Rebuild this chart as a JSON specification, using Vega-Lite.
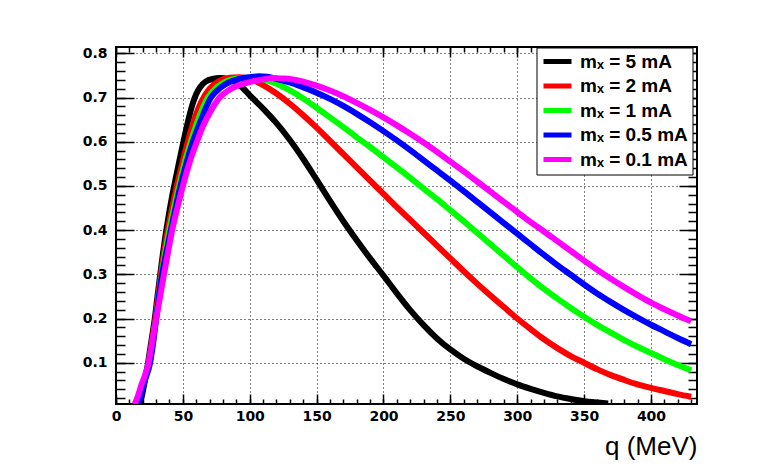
{
"$schema": "https://vega.github.io/schema/vega-lite/v6.json",
"width": 581, "height": 357,
"autosize": "none",
"padding": {"left": 116, "top": 47, "right": 78, "bottom": 72},
"background": "white",
"config": {"view": {"stroke": "black", "strokeWidth": 2}},
"data": {"values": [
{"s":"mₓ = 5 mA","q":17.5,"f":0.007},{"s":"mₓ = 5 mA","q":19,"f":0.02},{"s":"mₓ = 5 mA","q":21,"f":0.05},{"s":"mₓ = 5 mA","q":24,"f":0.1},{"s":"mₓ = 5 mA","q":26.5,"f":0.15},{"s":"mₓ = 5 mA","q":29,"f":0.2},{"s":"mₓ = 5 mA","q":31,"f":0.25},{"s":"mₓ = 5 mA","q":33,"f":0.298},{"s":"mₓ = 5 mA","q":35,"f":0.345},{"s":"mₓ = 5 mA","q":37,"f":0.388},{"s":"mₓ = 5 mA","q":39.5,"f":0.435},{"s":"mₓ = 5 mA","q":42,"f":0.477},{"s":"mₓ = 5 mA","q":45,"f":0.522},{"s":"mₓ = 5 mA","q":48,"f":0.566},{"s":"mₓ = 5 mA","q":51,"f":0.608},{"s":"mₓ = 5 mA","q":54,"f":0.648},{"s":"mₓ = 5 mA","q":57,"f":0.683},{"s":"mₓ = 5 mA","q":60,"f":0.708},{"s":"mₓ = 5 mA","q":63,"f":0.724},{"s":"mₓ = 5 mA","q":67,"f":0.736},{"s":"mₓ = 5 mA","q":72,"f":0.742},{"s":"mₓ = 5 mA","q":78,"f":0.744},{"s":"mₓ = 5 mA","q":84,"f":0.741},{"s":"mₓ = 5 mA","q":90,"f":0.733},{"s":"mₓ = 5 mA","q":95,"f":0.721},{"s":"mₓ = 5 mA","q":100,"f":0.705},{"s":"mₓ = 5 mA","q":110,"f":0.675},{"s":"mₓ = 5 mA","q":120,"f":0.642},{"s":"mₓ = 5 mA","q":130,"f":0.604},{"s":"mₓ = 5 mA","q":140,"f":0.561},{"s":"mₓ = 5 mA","q":150,"f":0.514},{"s":"mₓ = 5 mA","q":160,"f":0.466},{"s":"mₓ = 5 mA","q":170,"f":0.42},{"s":"mₓ = 5 mA","q":180,"f":0.377},{"s":"mₓ = 5 mA","q":190,"f":0.336},{"s":"mₓ = 5 mA","q":200,"f":0.297},{"s":"mₓ = 5 mA","q":210,"f":0.257},{"s":"mₓ = 5 mA","q":220,"f":0.219},{"s":"mₓ = 5 mA","q":230,"f":0.185},{"s":"mₓ = 5 mA","q":240,"f":0.155},{"s":"mₓ = 5 mA","q":250,"f":0.13},{"s":"mₓ = 5 mA","q":260,"f":0.109},{"s":"mₓ = 5 mA","q":270,"f":0.092},{"s":"mₓ = 5 mA","q":280,"f":0.077},{"s":"mₓ = 5 mA","q":290,"f":0.063},{"s":"mₓ = 5 mA","q":300,"f":0.051},{"s":"mₓ = 5 mA","q":310,"f":0.041},{"s":"mₓ = 5 mA","q":320,"f":0.032},{"s":"mₓ = 5 mA","q":330,"f":0.024},{"s":"mₓ = 5 mA","q":340,"f":0.018},{"s":"mₓ = 5 mA","q":350,"f":0.013},{"s":"mₓ = 5 mA","q":360,"f":0.01},{"s":"mₓ = 5 mA","q":368,"f":0.008},
{"s":"mₓ = 2 mA","q":16,"f":0.008},{"s":"mₓ = 2 mA","q":18,"f":0.025},{"s":"mₓ = 2 mA","q":21,"f":0.058},{"s":"mₓ = 2 mA","q":24.5,"f":0.1},{"s":"mₓ = 2 mA","q":27,"f":0.15},{"s":"mₓ = 2 mA","q":29.5,"f":0.2},{"s":"mₓ = 2 mA","q":31.5,"f":0.25},{"s":"mₓ = 2 mA","q":33.5,"f":0.298},{"s":"mₓ = 2 mA","q":36,"f":0.35},{"s":"mₓ = 2 mA","q":38.7,"f":0.4},{"s":"mₓ = 2 mA","q":42,"f":0.45},{"s":"mₓ = 2 mA","q":45.5,"f":0.5},{"s":"mₓ = 2 mA","q":49.5,"f":0.55},{"s":"mₓ = 2 mA","q":53.7,"f":0.6},{"s":"mₓ = 2 mA","q":58,"f":0.645},{"s":"mₓ = 2 mA","q":63.7,"f":0.69},{"s":"mₓ = 2 mA","q":70,"f":0.72},{"s":"mₓ = 2 mA","q":77,"f":0.737},{"s":"mₓ = 2 mA","q":85,"f":0.745},{"s":"mₓ = 2 mA","q":92,"f":0.746},{"s":"mₓ = 2 mA","q":100,"f":0.742},{"s":"mₓ = 2 mA","q":110,"f":0.728},{"s":"mₓ = 2 mA","q":120,"f":0.709},{"s":"mₓ = 2 mA","q":130,"f":0.686},{"s":"mₓ = 2 mA","q":140,"f":0.66},{"s":"mₓ = 2 mA","q":150,"f":0.632},{"s":"mₓ = 2 mA","q":160,"f":0.602},{"s":"mₓ = 2 mA","q":170,"f":0.572},{"s":"mₓ = 2 mA","q":180,"f":0.542},{"s":"mₓ = 2 mA","q":190,"f":0.512},{"s":"mₓ = 2 mA","q":200,"f":0.482},{"s":"mₓ = 2 mA","q":210,"f":0.452},{"s":"mₓ = 2 mA","q":220,"f":0.423},{"s":"mₓ = 2 mA","q":230,"f":0.394},{"s":"mₓ = 2 mA","q":240,"f":0.365},{"s":"mₓ = 2 mA","q":250,"f":0.336},{"s":"mₓ = 2 mA","q":260,"f":0.307},{"s":"mₓ = 2 mA","q":270,"f":0.279},{"s":"mₓ = 2 mA","q":280,"f":0.252},{"s":"mₓ = 2 mA","q":290,"f":0.226},{"s":"mₓ = 2 mA","q":300,"f":0.2},{"s":"mₓ = 2 mA","q":310,"f":0.176},{"s":"mₓ = 2 mA","q":320,"f":0.153},{"s":"mₓ = 2 mA","q":330,"f":0.133},{"s":"mₓ = 2 mA","q":340,"f":0.115},{"s":"mₓ = 2 mA","q":350,"f":0.1},{"s":"mₓ = 2 mA","q":360,"f":0.085},{"s":"mₓ = 2 mA","q":370,"f":0.072},{"s":"mₓ = 2 mA","q":380,"f":0.061},{"s":"mₓ = 2 mA","q":390,"f":0.051},{"s":"mₓ = 2 mA","q":400,"f":0.043},{"s":"mₓ = 2 mA","q":410,"f":0.036},{"s":"mₓ = 2 mA","q":420,"f":0.029},{"s":"mₓ = 2 mA","q":430,"f":0.023},
{"s":"mₓ = 1 mA","q":16,"f":0.008},{"s":"mₓ = 1 mA","q":18,"f":0.025},{"s":"mₓ = 1 mA","q":21,"f":0.058},{"s":"mₓ = 1 mA","q":25,"f":0.1},{"s":"mₓ = 1 mA","q":27.5,"f":0.15},{"s":"mₓ = 1 mA","q":30,"f":0.2},{"s":"mₓ = 1 mA","q":32,"f":0.25},{"s":"mₓ = 1 mA","q":34,"f":0.295},{"s":"mₓ = 1 mA","q":37,"f":0.352},{"s":"mₓ = 1 mA","q":40,"f":0.402},{"s":"mₓ = 1 mA","q":43.5,"f":0.452},{"s":"mₓ = 1 mA","q":47,"f":0.498},{"s":"mₓ = 1 mA","q":51,"f":0.548},{"s":"mₓ = 1 mA","q":56,"f":0.6},{"s":"mₓ = 1 mA","q":61.5,"f":0.65},{"s":"mₓ = 1 mA","q":68.7,"f":0.7},{"s":"mₓ = 1 mA","q":75,"f":0.722},{"s":"mₓ = 1 mA","q":82,"f":0.736},{"s":"mₓ = 1 mA","q":90,"f":0.743},{"s":"mₓ = 1 mA","q":100,"f":0.745},{"s":"mₓ = 1 mA","q":110,"f":0.741},{"s":"mₓ = 1 mA","q":120,"f":0.731},{"s":"mₓ = 1 mA","q":130,"f":0.716},{"s":"mₓ = 1 mA","q":140,"f":0.698},{"s":"mₓ = 1 mA","q":150,"f":0.677},{"s":"mₓ = 1 mA","q":160,"f":0.655},{"s":"mₓ = 1 mA","q":170,"f":0.633},{"s":"mₓ = 1 mA","q":180,"f":0.61},{"s":"mₓ = 1 mA","q":190,"f":0.588},{"s":"mₓ = 1 mA","q":200,"f":0.565},{"s":"mₓ = 1 mA","q":210,"f":0.542},{"s":"mₓ = 1 mA","q":220,"f":0.518},{"s":"mₓ = 1 mA","q":230,"f":0.494},{"s":"mₓ = 1 mA","q":240,"f":0.47},{"s":"mₓ = 1 mA","q":250,"f":0.445},{"s":"mₓ = 1 mA","q":260,"f":0.42},{"s":"mₓ = 1 mA","q":270,"f":0.394},{"s":"mₓ = 1 mA","q":280,"f":0.368},{"s":"mₓ = 1 mA","q":290,"f":0.342},{"s":"mₓ = 1 mA","q":300,"f":0.316},{"s":"mₓ = 1 mA","q":310,"f":0.291},{"s":"mₓ = 1 mA","q":320,"f":0.267},{"s":"mₓ = 1 mA","q":330,"f":0.245},{"s":"mₓ = 1 mA","q":340,"f":0.224},{"s":"mₓ = 1 mA","q":350,"f":0.204},{"s":"mₓ = 1 mA","q":360,"f":0.185},{"s":"mₓ = 1 mA","q":370,"f":0.168},{"s":"mₓ = 1 mA","q":380,"f":0.151},{"s":"mₓ = 1 mA","q":390,"f":0.136},{"s":"mₓ = 1 mA","q":400,"f":0.122},{"s":"mₓ = 1 mA","q":410,"f":0.108},{"s":"mₓ = 1 mA","q":420,"f":0.095},{"s":"mₓ = 1 mA","q":430,"f":0.083},
{"s":"mₓ = 0.5 mA","q":16.5,"f":0.007},{"s":"mₓ = 0.5 mA","q":18,"f":0.02},{"s":"mₓ = 0.5 mA","q":21,"f":0.055},{"s":"mₓ = 0.5 mA","q":25.5,"f":0.1},{"s":"mₓ = 0.5 mA","q":28,"f":0.15},{"s":"mₓ = 0.5 mA","q":30,"f":0.2},{"s":"mₓ = 0.5 mA","q":32,"f":0.248},{"s":"mₓ = 0.5 mA","q":34.5,"f":0.3},{"s":"mₓ = 0.5 mA","q":38,"f":0.355},{"s":"mₓ = 0.5 mA","q":41,"f":0.4},{"s":"mₓ = 0.5 mA","q":44.5,"f":0.45},{"s":"mₓ = 0.5 mA","q":48,"f":0.497},{"s":"mₓ = 0.5 mA","q":52.5,"f":0.55},{"s":"mₓ = 0.5 mA","q":57.5,"f":0.6},{"s":"mₓ = 0.5 mA","q":63,"f":0.645},{"s":"mₓ = 0.5 mA","q":71,"f":0.7},{"s":"mₓ = 0.5 mA","q":78,"f":0.722},{"s":"mₓ = 0.5 mA","q":85,"f":0.735},{"s":"mₓ = 0.5 mA","q":92,"f":0.742},{"s":"mₓ = 0.5 mA","q":100,"f":0.746},{"s":"mₓ = 0.5 mA","q":107,"f":0.748},{"s":"mₓ = 0.5 mA","q":113,"f":0.747},{"s":"mₓ = 0.5 mA","q":120,"f":0.742},{"s":"mₓ = 0.5 mA","q":130,"f":0.734},{"s":"mₓ = 0.5 mA","q":140,"f":0.723},{"s":"mₓ = 0.5 mA","q":150,"f":0.711},{"s":"mₓ = 0.5 mA","q":160,"f":0.697},{"s":"mₓ = 0.5 mA","q":170,"f":0.681},{"s":"mₓ = 0.5 mA","q":180,"f":0.663},{"s":"mₓ = 0.5 mA","q":190,"f":0.644},{"s":"mₓ = 0.5 mA","q":200,"f":0.624},{"s":"mₓ = 0.5 mA","q":210,"f":0.603},{"s":"mₓ = 0.5 mA","q":220,"f":0.581},{"s":"mₓ = 0.5 mA","q":230,"f":0.558},{"s":"mₓ = 0.5 mA","q":240,"f":0.535},{"s":"mₓ = 0.5 mA","q":250,"f":0.512},{"s":"mₓ = 0.5 mA","q":260,"f":0.488},{"s":"mₓ = 0.5 mA","q":270,"f":0.464},{"s":"mₓ = 0.5 mA","q":280,"f":0.44},{"s":"mₓ = 0.5 mA","q":290,"f":0.416},{"s":"mₓ = 0.5 mA","q":300,"f":0.392},{"s":"mₓ = 0.5 mA","q":310,"f":0.368},{"s":"mₓ = 0.5 mA","q":320,"f":0.344},{"s":"mₓ = 0.5 mA","q":330,"f":0.321},{"s":"mₓ = 0.5 mA","q":340,"f":0.299},{"s":"mₓ = 0.5 mA","q":350,"f":0.277},{"s":"mₓ = 0.5 mA","q":360,"f":0.256},{"s":"mₓ = 0.5 mA","q":370,"f":0.237},{"s":"mₓ = 0.5 mA","q":380,"f":0.219},{"s":"mₓ = 0.5 mA","q":390,"f":0.202},{"s":"mₓ = 0.5 mA","q":400,"f":0.186},{"s":"mₓ = 0.5 mA","q":410,"f":0.171},{"s":"mₓ = 0.5 mA","q":420,"f":0.156},{"s":"mₓ = 0.5 mA","q":430,"f":0.142},
{"s":"mₓ = 0.1 mA","q":14,"f":0.006},{"s":"mₓ = 0.1 mA","q":17,"f":0.03},{"s":"mₓ = 0.1 mA","q":19,"f":0.05},{"s":"mₓ = 0.1 mA","q":21,"f":0.066},{"s":"mₓ = 0.1 mA","q":24.4,"f":0.1},{"s":"mₓ = 0.1 mA","q":27,"f":0.145},{"s":"mₓ = 0.1 mA","q":30,"f":0.198},{"s":"mₓ = 0.1 mA","q":33,"f":0.25},{"s":"mₓ = 0.1 mA","q":36,"f":0.302},{"s":"mₓ = 0.1 mA","q":39,"f":0.352},{"s":"mₓ = 0.1 mA","q":42,"f":0.4},{"s":"mₓ = 0.1 mA","q":46,"f":0.452},{"s":"mₓ = 0.1 mA","q":50,"f":0.5},{"s":"mₓ = 0.1 mA","q":55,"f":0.553},{"s":"mₓ = 0.1 mA","q":60.5,"f":0.6},{"s":"mₓ = 0.1 mA","q":65,"f":0.635},{"s":"mₓ = 0.1 mA","q":70,"f":0.665},{"s":"mₓ = 0.1 mA","q":77.5,"f":0.7},{"s":"mₓ = 0.1 mA","q":85,"f":0.718},{"s":"mₓ = 0.1 mA","q":92,"f":0.728},{"s":"mₓ = 0.1 mA","q":100,"f":0.735},{"s":"mₓ = 0.1 mA","q":110,"f":0.741},{"s":"mₓ = 0.1 mA","q":118,"f":0.744},{"s":"mₓ = 0.1 mA","q":125,"f":0.743},{"s":"mₓ = 0.1 mA","q":130,"f":0.742},{"s":"mₓ = 0.1 mA","q":140,"f":0.736},{"s":"mₓ = 0.1 mA","q":150,"f":0.727},{"s":"mₓ = 0.1 mA","q":160,"f":0.716},{"s":"mₓ = 0.1 mA","q":170,"f":0.703},{"s":"mₓ = 0.1 mA","q":180,"f":0.688},{"s":"mₓ = 0.1 mA","q":190,"f":0.672},{"s":"mₓ = 0.1 mA","q":200,"f":0.655},{"s":"mₓ = 0.1 mA","q":210,"f":0.637},{"s":"mₓ = 0.1 mA","q":220,"f":0.618},{"s":"mₓ = 0.1 mA","q":230,"f":0.598},{"s":"mₓ = 0.1 mA","q":240,"f":0.577},{"s":"mₓ = 0.1 mA","q":250,"f":0.555},{"s":"mₓ = 0.1 mA","q":260,"f":0.533},{"s":"mₓ = 0.1 mA","q":270,"f":0.51},{"s":"mₓ = 0.1 mA","q":280,"f":0.487},{"s":"mₓ = 0.1 mA","q":290,"f":0.464},{"s":"mₓ = 0.1 mA","q":300,"f":0.441},{"s":"mₓ = 0.1 mA","q":310,"f":0.418},{"s":"mₓ = 0.1 mA","q":320,"f":0.397},{"s":"mₓ = 0.1 mA","q":330,"f":0.375},{"s":"mₓ = 0.1 mA","q":340,"f":0.353},{"s":"mₓ = 0.1 mA","q":350,"f":0.331},{"s":"mₓ = 0.1 mA","q":360,"f":0.31},{"s":"mₓ = 0.1 mA","q":370,"f":0.29},{"s":"mₓ = 0.1 mA","q":380,"f":0.271},{"s":"mₓ = 0.1 mA","q":390,"f":0.253},{"s":"mₓ = 0.1 mA","q":400,"f":0.236},{"s":"mₓ = 0.1 mA","q":410,"f":0.221},{"s":"mₓ = 0.1 mA","q":420,"f":0.207},{"s":"mₓ = 0.1 mA","q":430,"f":0.194}
]},
"layer": [
{"mark": {"type": "line", "strokeWidth": 6, "clip": true, "interpolate": "monotone", "strokeJoin": "round"},
 "encoding": {
  "x": {"field": "q", "type": "quantitative", "scale": {"domain": [0, 434.4], "nice": false, "zero": false},
   "axis": {"orient": "bottom", "values": [0,50,100,150,200,250,300,350,400], "format": "d", "domain": false, "ticks": false,
    "grid": true, "gridColor": "black", "gridDash": [1,3], "gridWidth": 1,
    "labelFont": "DejaVu Sans", "labelFontWeight": "bold", "labelFontSize": 14, "labelColor": "black", "labelPadding": 5, "labelFlush": false, "labelOverlap": false,
    "title": "q (MeV)", "titleFont": "Liberation Sans", "titleFontSize": 26, "titleFontWeight": "normal", "titleColor": "black", "titleAnchor": "end", "titlePadding": 10}},
  "y": {"field": "f", "type": "quantitative", "scale": {"domain": [0.0066, 0.8143], "nice": false, "zero": false},
   "axis": {"orient": "left", "values": [0.1,0.2,0.3,0.4,0.5,0.6,0.7,0.8], "format": ".1f", "domain": false, "ticks": false,
    "grid": true, "gridColor": "black", "gridDash": [1,3], "gridWidth": 1,
    "labelFont": "DejaVu Sans", "labelFontWeight": "bold", "labelFontSize": 14, "labelColor": "black", "labelPadding": 9, "labelFlush": false, "labelOverlap": false,
    "title": null}},
  "color": {"field": "s", "type": "nominal",
   "scale": {"domain": ["mₓ = 5 mA","mₓ = 2 mA","mₓ = 1 mA","mₓ = 0.5 mA","mₓ = 0.1 mA"], "range": ["#000000","#ff0000","#00ff00","#0000ff","#ff00ff"]},
   "legend": {"orient": "none", "legendX": 420.5, "legendY": 0.5, "title": null,
    "strokeColor": "black", "fillColor": "white", "padding": 4.5,
    "symbolType": "M-2,0H2", "symbolSize": 196, "symbolStrokeWidth": 5, "symbolOffset": 7,
    "labelFont": "Liberation Sans", "labelFontWeight": "bold", "labelFontSize": 19, "labelColor": "black", "labelOffset": 13, "labelLimit": 300,
    "rowPadding": 3.5}}
 }},
{"mark": {"type": "point", "opacity": 0, "size": 1},
 "encoding": {
  "x": {"field": "q", "type": "quantitative", "scale": {"domain": [0, 434.4], "nice": false, "zero": false},
   "axis": {"orient": "bottom", "values": [0,10,20,30,40,50,60,70,80,90,100,110,120,130,140,150,160,170,180,190,200,210,220,230,240,250,260,270,280,290,300,310,320,330,340,350,360,370,380,390,400,410,420,430], "domain": false, "grid": false, "labels": false, "title": null, "tickSize": 5, "offset": -5, "tickColor": "black", "tickWidth": 1.5}},
  "y": {"field": "f", "type": "quantitative", "scale": {"domain": [0.0066, 0.8143], "nice": false, "zero": false},
   "axis": {"orient": "left", "values": [0.02,0.04,0.06,0.08,0.1,0.12,0.14,0.16,0.18,0.2,0.22,0.24,0.26,0.28,0.3,0.32,0.34,0.36,0.38,0.4,0.42,0.44,0.46,0.48,0.5,0.52,0.54,0.56,0.58,0.6,0.62,0.64,0.66,0.68,0.7,0.72,0.74,0.76,0.78,0.8], "domain": false, "grid": false, "labels": false, "title": null, "tickSize": 9, "offset": -9, "tickColor": "black", "tickWidth": 1.5}}
 }},
{"mark": {"type": "point", "opacity": 0, "size": 1},
 "encoding": {
  "x": {"field": "q", "type": "quantitative", "scale": {"domain": [0, 434.4], "nice": false, "zero": false},
   "axis": {"orient": "bottom", "values": [0,50,100,150,200,250,300,350,400], "domain": false, "grid": false, "labels": false, "title": null, "tickSize": 10, "offset": -10, "tickColor": "black", "tickWidth": 1.5}},
  "y": {"field": "f", "type": "quantitative", "scale": {"domain": [0.0066, 0.8143], "nice": false, "zero": false},
   "axis": {"orient": "left", "values": [0.1,0.2,0.3,0.4,0.5,0.6,0.7,0.8], "domain": false, "grid": false, "labels": false, "title": null, "tickSize": 18, "offset": -18, "tickColor": "black", "tickWidth": 1.5}}
 }},
{"mark": {"type": "point", "opacity": 0, "size": 1},
 "encoding": {
  "x": {"field": "q", "type": "quantitative", "scale": {"domain": [0, 434.4], "nice": false, "zero": false},
   "axis": {"orient": "top", "values": [0,10,20,30,40,50,60,70,80,90,100,110,120,130,140,150,160,170,180,190,200,210,220,230,240,250,260,270,280,290,300,310,320,330,340,350,360,370,380,390,400,410,420,430], "domain": false, "grid": false, "labels": false, "title": null, "tickSize": 5, "offset": -5, "tickColor": "black", "tickWidth": 1.5}},
  "y": {"field": "f", "type": "quantitative", "scale": {"domain": [0.0066, 0.8143], "nice": false, "zero": false},
   "axis": {"orient": "right", "values": [0.02,0.04,0.06,0.08,0.1,0.12,0.14,0.16,0.18,0.2,0.22,0.24,0.26,0.28,0.3,0.32,0.34,0.36,0.38,0.4,0.42,0.44,0.46,0.48,0.5,0.52,0.54,0.56,0.58,0.6,0.62,0.64,0.66,0.68,0.7,0.72,0.74,0.76,0.78,0.8], "domain": false, "grid": false, "labels": false, "title": null, "tickSize": 9, "offset": -9, "tickColor": "black", "tickWidth": 1.5}}
 }},
{"mark": {"type": "point", "opacity": 0, "size": 1},
 "encoding": {
  "x": {"field": "q", "type": "quantitative", "scale": {"domain": [0, 434.4], "nice": false, "zero": false},
   "axis": {"orient": "top", "values": [0,50,100,150,200,250,300,350,400], "domain": false, "grid": false, "labels": false, "title": null, "tickSize": 10, "offset": -10, "tickColor": "black", "tickWidth": 1.5}},
  "y": {"field": "f", "type": "quantitative", "scale": {"domain": [0.0066, 0.8143], "nice": false, "zero": false},
   "axis": {"orient": "right", "values": [0.1,0.2,0.3,0.4,0.5,0.6,0.7,0.8], "domain": false, "grid": false, "labels": false, "title": null, "tickSize": 18, "offset": -18, "tickColor": "black", "tickWidth": 1.5}}
 }}
],
"resolve": {"axis": {"x": "independent", "y": "independent"}}
}
